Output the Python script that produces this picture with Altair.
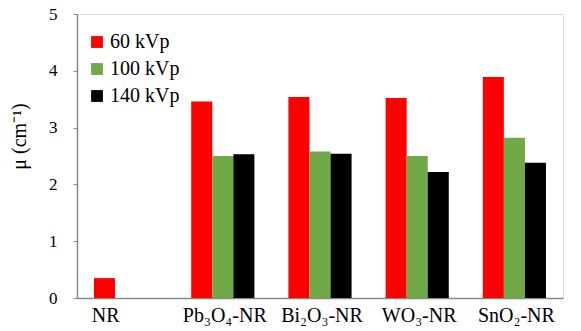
import altair as alt
import pandas as pd

categories = ["NR", "Pb₃O₄-NR", "Bi₂O₃-NR", "WO₃-NR", "SnO₂-NR"]
series = ["60 kVp", "100 kVp", "140 kVp"]
v60 = [0.35, 3.46, 3.54, 3.52, 3.89]
v100 = [None, 2.50, 2.58, 2.50, 2.82]
v140 = [None, 2.53, 2.54, 2.22, 2.38]
colors = ["#FF0000", "#6FAA47", "#000000"]

rows = []
for s, vals in zip(series, [v60, v100, v140]):
    for c, v in zip(categories, vals):
        if v is not None:
            rows.append({"cat": c, "series": s, "value": v})
df = pd.DataFrame(rows)

FONT = "'Times New Roman', 'Liberation Serif', serif"

chart = alt.Chart(df).mark_bar().encode(
    x=alt.X("cat:N", sort=categories, title=None,
            scale=alt.Scale(paddingInner=0.35, paddingOuter=0.175),
            axis=alt.Axis(labelAngle=0, ticks=False, labelPadding=7,
                          labelOffset={"condition": {"test": "datum.value === 'NR'", "value": -20},
                                       "value": 2},
                          labelFontSize=20, labelFont=FONT, labelColor="#000",
                          domainColor="#888", domainWidth=1.5)),
    xOffset=alt.XOffset("series:N", sort=series,
                        scale=alt.Scale(paddingInner=0, paddingOuter=0)),
    y=alt.Y("value:Q", title="μ (cm⁻¹)",
            scale=alt.Scale(domain=[0, 5], nice=False),
            axis=alt.Axis(values=[0, 1, 2, 3, 4, 5], format="d", grid=False,
                          tickSize=4, tickColor="#888", labelPadding=16,
                          labelFontSize=17, labelFont=FONT, labelColor="#000",
                          titleFontSize=20, titleFont=FONT, titleFontWeight="normal",
                          titleColor="#000", titlePadding=19, titleY=122,
                          domainColor="#888", domainWidth=1.5)),
    color=alt.Color("series:N", sort=series,
                    scale=alt.Scale(domain=series, range=colors),
                    legend=alt.Legend(title=None, orient="none", legendX=10, legendY=18,
                                      symbolType="square", symbolSize=140,
                                      symbolStrokeWidth=0, labelFontSize=20,
                                      labelFont=FONT, labelColor="#000",
                                      rowPadding=7, labelOffset=3)),
).properties(
    width=486, height=284,
    autosize=alt.AutoSizeParams(type="none"),
    padding={"left": 77, "top": 14, "right": 18, "bottom": 33},
).configure_view(
    stroke="#888", strokeWidth=1.5
).configure(background="white")

chart.save("out.html", embed_options={"renderer": "svg", "actions": False})
